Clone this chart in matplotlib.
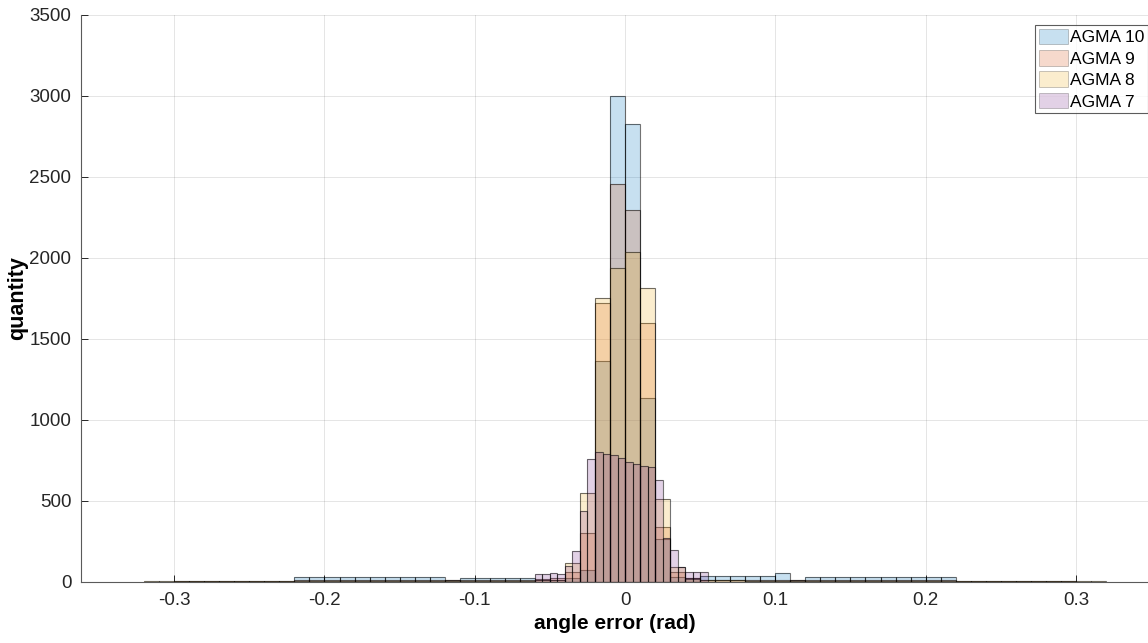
import numpy as np
import matplotlib.pyplot as plt

# histogram counts, one list per gear quality
labels = ['AGMA 10', 'AGMA 9', 'AGMA 8', 'AGMA 7']
colors = ['#0072BD', '#D95319', '#EDB120', '#7E2F8E']

# AGMA 10: bins of 0.01 starting at -0.22
agma10_start = -0.22
agma10_width = 0.01
agma10_counts = [30, 30, 30, 30, 30, 30, 30, 30, 30, 30,
                 12, 25, 22, 22, 22, 22, 15, 15, 25, 74,
                 1364, 3000, 2830, 1136, 265, 30, 25,
                 35, 35, 35, 35, 35, 55, 10,
                 28, 28, 28, 28, 28, 28, 28, 28, 28, 28]

# AGMA 9: bins of 0.01 starting at -0.30
agma9_start = -0.30
agma9_width = 0.01
agma9_counts = [6, 6, 6, 8, 8, 8, 8, 8, 10, 10,
                10, 10, 10, 10, 10, 10, 10, 10, 15, 15,
                15, 15, 15, 15, 20, 25, 60, 302, 1720, 2457,
                2296, 1599, 340, 60, 25, 15, 12, 12, 12, 12,
                12, 12, 10, 10, 10, 10, 10, 10, 10, 10,
                10, 10, 8, 8, 8, 8, 8, 8, 6, 6]

# AGMA 8: bins of 0.01 starting at -0.32
agma8_start = -0.32
agma8_width = 0.01
agma8_counts = [4, 4, 6, 6, 6, 6, 6, 6, 6, 6,
                6, 6, 6, 6, 6, 6, 6, 6, 6, 6,
                8, 8, 8, 8, 8, 8, 12, 12, 120, 549,
                1753, 1938, 2037, 1815, 512, 90, 20, 12, 10, 10,
                8, 8, 8, 8, 8, 8, 8, 8, 6, 6,
                6, 6, 6, 6, 6, 6, 6, 6, 6, 6,
                6, 6, 4, 4]

# AGMA 7: bins of 0.005 starting at -0.06
agma7_start = -0.06
agma7_width = 0.005
agma7_counts = [50, 50, 55, 50, 100, 190, 440, 759,
                802, 790, 784, 765, 741, 728, 716, 710,
                630, 270, 200, 90, 60, 60, 60]

series = [
    (agma10_start, agma10_width, agma10_counts),
    (agma9_start, agma9_width, agma9_counts),
    (agma8_start, agma8_width, agma8_counts),
    (agma7_start, agma7_width, agma7_counts),
]

plt.rcParams['font.family'] = ['Liberation Sans', 'DejaVu Sans']

fig = plt.figure(figsize=(11.48, 6.43), dpi=100)
ax = fig.add_axes([0.0706, 0.0949, 0.9294, 0.8818])

for (start, width, counts), lab, col in zip(series, labels, colors):
    left = start + width * np.arange(len(counts))
    ax.bar(left, counts, width=width, align='edge', color=col, alpha=0.22,
           edgecolor='none', label=lab)
    ax.bar(left, counts, width=width, align='edge', facecolor='none',
           edgecolor=(0, 0, 0, 0.55), linewidth=0.8)

ax.set_xlim(-0.362, 0.348)
ax.set_ylim(0, 3500)
ax.set_xticks([-0.3, -0.2, -0.1, 0, 0.1, 0.2, 0.3])
ax.set_xticklabels(['-0.3', '-0.2', '-0.1', '0', '0.1', '0.2', '0.3'])
ax.set_yticks(range(0, 3501, 500))
ax.tick_params(direction='in', length=5, labelsize=13.5, colors='#262626',
               width=0.7, pad=7)
ax.grid(True, color='#262626', alpha=0.12, linewidth=0.7)
ax.set_axisbelow(True)
for side in ['top', 'right']:
    ax.spines[side].set_visible(False)
for side in ['left', 'bottom']:
    ax.spines[side].set_color('#5a5a5a')
    ax.spines[side].set_linewidth(0.8)

ax.set_xlabel('angle error (rad)', fontsize=15, fontweight='bold', labelpad=4)
ax.set_ylabel('quantity', fontsize=15.5, fontweight='bold', labelpad=1)

leg = ax.legend(loc='upper right', bbox_to_anchor=(1.0, 0.982), fontsize=12.5,
                frameon=True, fancybox=False, handlelength=1.67,
                handleheight=1.0, handletextpad=0.15, labelspacing=0.27,
                borderpad=0.2, borderaxespad=0.0)
leg.get_frame().set_edgecolor('#333333')
leg.get_frame().set_linewidth(0.8)
for h in leg.legend_handles:
    h.set_edgecolor('black')
    h.set_linewidth(0.7)

fig.savefig('out.png', dpi=100)
